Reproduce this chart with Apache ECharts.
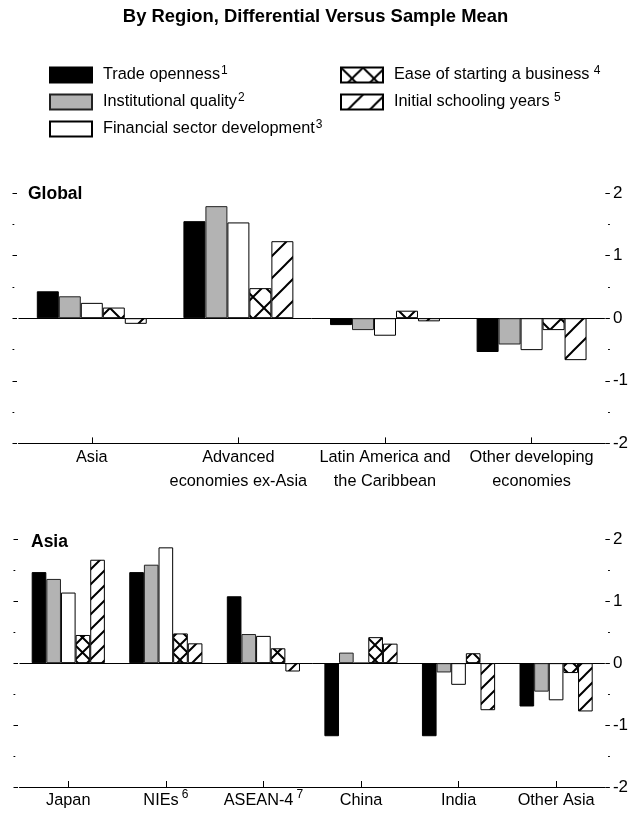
<!DOCTYPE html>
<html><head><meta charset="utf-8">
<script src="https://cdn.jsdelivr.net/npm/echarts@6/dist/echarts.min.js"></script>
<style>html,body{margin:0;padding:0;background:#fff}#c{width:631px;height:813px}</style>
</head><body><div id="c"></div>
<script>
// ---- data ----
const seriesNames = ['Trade openness','Institutional quality','Financial sector development','Ease of starting a business','Initial schooling years'];
const seriesNotes = ['1','2','3','4','5'];

const globalCategories = ['Asia','Advanced\neconomies ex-Asia','Latin America and\nthe Caribbean','Other developing\neconomies'];
const globalTrade  = [0.43, 1.55, -0.11, -0.54];
const globalInst   = [0.35, 1.79, -0.19, -0.42];
const globalFin    = [0.245, 1.53, -0.28, -0.51];
const globalEase   = [0.17, 0.48, 0.12, -0.19];
const globalSchool = [-0.09, 1.23, -0.05, -0.67];

const asiaCategories = ['Japan','NIEs','ASEAN-4','China','India','Other Asia'];
const asiaNotes      = ['','6','7','','',''];
const asiaTrade  = [1.47, 1.47, 1.08, -1.18, -1.18, -0.70];
const asiaInst   = [1.36, 1.59, 0.47, 0.17, -0.15, -0.46];
const asiaFin    = [1.14, 1.87, 0.44, 0, -0.35, -0.60];
const asiaEase   = [0.455, 0.48, 0.24, 0.42, 0.16, -0.16];
const asiaSchool = [1.67, 0.32, -0.135, 0.315, -0.76, -0.78];

const yTicks = [-2, -1, 0, 1, 2];

// ---- styles ----
const FONT = "'Liberation Sans', Arial, sans-serif";

function crossPattern(size){
  const c = document.createElement('canvas'); c.width = size; c.height = size;
  const g = c.getContext('2d');
  g.fillStyle = '#fff'; g.fillRect(0,0,size,size);
  g.strokeStyle = '#000'; g.lineWidth = 2;
  g.beginPath(); g.moveTo(0,0); g.lineTo(size,size); g.moveTo(0,size); g.lineTo(size,0); g.stroke();
  return {image: c, repeat: 'repeat'};
}
function hatchPattern(size){
  const c = document.createElement('canvas'); c.width = size; c.height = size;
  const g = c.getContext('2d');
  g.fillStyle = '#fff'; g.fillRect(0,0,size,size);
  g.strokeStyle = '#000'; g.lineWidth = 2;
  g.beginPath();
  g.moveTo(0,size); g.lineTo(size,0);
  g.moveTo(-2,2); g.lineTo(2,-2);
  g.moveTo(size-2,size+2); g.lineTo(size+2,size-2);
  g.stroke();
  return {image: c, repeat: 'repeat'};
}
function fills(size){
  return ['#000', '#b3b3b3', '#fff', crossPattern(size), hatchPattern(size)];
}

const grids = [
  {left: 18.5, right: 24, top: 193, height: 250.4},
  {left: 19.5, right: 25, top: 539.3, height: 249.5}
];

function yAxes(gi){
  const common = {
    type: 'value', gridIndex: gi, min: -2, max: 2, interval: 1,
    axisLine: {show: false},
    splitLine: {show: false},
    minorTick: {show: true, splitNumber: 2, length: 1.8, lineStyle: {color: '#000', width: 1}},
    axisTick: {show: true, inside: true, length: 4.5, lineStyle: {color: '#000', width: 1}}
  };
  return [
    Object.assign({}, common, {position: 'left', offset: 6, axisLabel: {show: false}}),
    Object.assign({}, common, {position: 'right', offset: 5,
      axisLabel: {show: true, margin: 3, color: '#000', fontFamily: FONT, fontSize: 17,
        formatter: v => (yTicks.indexOf(v) >= 0 ? String(v) : '')}})
  ];
}

function xAxis(gi, cats, notes){
  return {
    type: 'category', gridIndex: gi, data: cats, position: 'bottom',
    axisLine: {show: true, onZero: false, lineStyle: {color: '#000', width: 1.2}},
    axisTick: {show: true, inside: true, alignWithLabel: true, length: 6, interval: 0, lineStyle: {color: '#000'}},
    axisLabel: {interval: 0, margin: 1.5, color: '#000', fontFamily: FONT, fontSize: 16.3, lineHeight: 24.5,
      formatter: (v, i) => notes && notes[i] ? v + '{s|' + notes[i] + '}' : v,
      rich: {s: {fontSize: 12, fontFamily: FONT, color: '#000', verticalAlign: 'top', lineHeight: 15, padding: [0,0,0,3]}}}
  };
}

function makeSeries(gi, dataArrs, tileSize){
  const f = fills(tileSize);
  return dataArrs.map((arr, k) => {
    const s = {
      type: 'bar', name: seriesNames[k], xAxisIndex: gi, yAxisIndex: gi * 2,
      data: arr, barGap: '0%', barCategoryGap: '25%',
      itemStyle: {color: f[k], borderColor: k === 1 ? '#222' : '#000', borderWidth: 1},
      emphasis: {disabled: true}, silent: true
    };
    if (k === 0) {
      s.markLine = {silent: true, symbol: ['none','none'], label: {show: false},
        lineStyle: {color: '#000', width: 1, type: 'solid'}, data: [{yAxis: 0}], z: 0};
    }
    return s;
  });
}

const legendText = {
  fontFamily: FONT, fontSize: 16.3, color: '#000', lineHeight: 20, padding: [0,0,0,6],
  rich: {s: {fontFamily: FONT, fontSize: 12, color: '#000', verticalAlign: 'top', lineHeight: 12, padding: [0,0,0,1]}}
};
const legendFmt = name => name + '{s|' + seriesNotes[seriesNames.indexOf(name)] + '}';
const legendFmtGap = name => name + '{s| ' + seriesNotes[seriesNames.indexOf(name)] + '}';

const option = {
  animation: false,
  backgroundColor: '#fff',
  title: [
    {text: 'By Region, Differential Versus Sample Mean', left: 'center', top: 4.5, padding: 0,
     textStyle: {fontFamily: FONT, fontSize: 18.4, fontWeight: 'bold', color: '#000', lineHeight: 24}},
    {text: 'Global', left: 28, top: 182, padding: 0,
     textStyle: {fontFamily: FONT, fontSize: 17.5, fontWeight: 'bold', color: '#000', lineHeight: 24}},
    {text: 'Asia', left: 31, top: 529.7, padding: 0,
     textStyle: {fontFamily: FONT, fontSize: 17.5, fontWeight: 'bold', color: '#000', lineHeight: 24}}
  ],
  legend: [
    {data: seriesNames.slice(0,3), orient: 'vertical', left: 49, top: 65, padding: 0,
     itemWidth: 42, itemHeight: 15, itemGap: 7, icon: 'rect', selectedMode: false,
     formatter: legendFmt, textStyle: legendText},
    {data: seriesNames.slice(3), orient: 'vertical', left: 340, top: 65, padding: 0,
     itemWidth: 42, itemHeight: 15, itemGap: 7, icon: 'rect', selectedMode: false,
     formatter: legendFmtGap, textStyle: legendText}
  ],
  grid: grids,
  xAxis: [xAxis(0, globalCategories, null), xAxis(1, asiaCategories, asiaNotes)],
  yAxis: yAxes(0).concat(yAxes(1)),
  series: makeSeries(0, [globalTrade, globalInst, globalFin, globalEase, globalSchool], 22)
    .concat(makeSeries(1, [asiaTrade, asiaInst, asiaFin, asiaEase, asiaSchool], 15))
};

const chart = echarts.init(document.getElementById('c'), null, {renderer: 'canvas'});
chart.setOption(option);
</script>
</body></html>
